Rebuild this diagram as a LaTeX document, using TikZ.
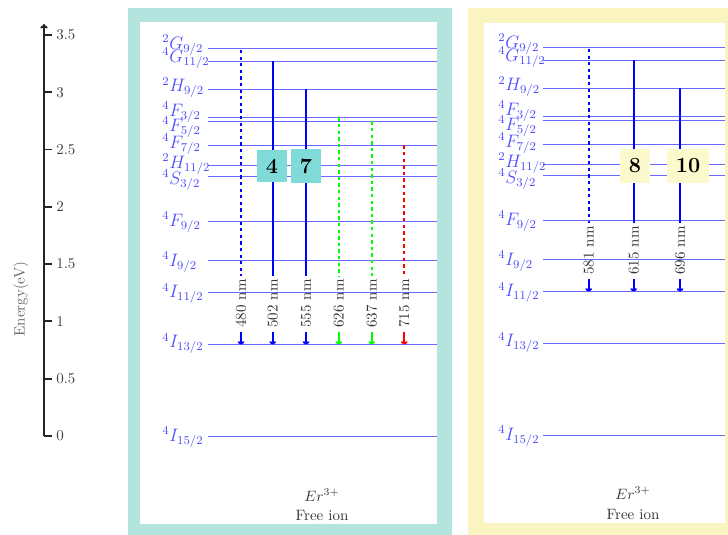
\documentclass[tikz,border=0pt]{standalone}
\usetikzlibrary{arrows.meta}
\definecolor{tealframe}{RGB}{179,229,222}
\definecolor{tealbox}{RGB}{128,218,216}
\definecolor{yelframe}{RGB}{250,244,192}
\definecolor{yelbox}{RGB}{252,249,205}
\definecolor{lvlblue}{RGB}{105,105,255}
\tikzset{
  lvl/.style={lvlblue, line width=0.9pt},
  lvllab/.style={blue!70, anchor=west, inner sep=0pt, font=\large},
  axisline/.style={black!85, line width=1.3pt},
  ticklab/.style={black!75, anchor=west, inner sep=0pt},
  nmlab/.style={black!80, rotate=90, inner sep=0pt},
  tr/.style={line width=1.3pt},
  dotl/.style={dash pattern=on 2.2pt off 2.2pt},
  numbox/.style={font=\Large\bfseries, inner sep=6.2pt, text=black},
  ionlab/.style={black!80, inner sep=0pt}
}
\newcommand\mylevel[4]{% name, x0, x1, y
  \coordinate (#1a) at (#2,#4);
  \coordinate (#1b) at (#3,#4);
  \draw[lvl] (#1a) -- (#1b);
}
\newcommand\mylab[4]{% name, x, y, text
  \node[lvllab] (#1) at (#2,#3) {$#4$};
}
\newcommand\mytrans[6]{% name, x, ytop, ybot, style, label
  \coordinate (#1top) at (#2,#3);
  \coordinate (#1end) at (#2,#4-68);
  \coordinate (#1arr) at (#2,#4-12);
  \coordinate (#1bot) at (#2,#4);
  \draw[tr,#5] (#1top) -- (#1end);
  \node[nmlab] (#1lab) at (#2,#4-41) {#6 nm};
  \draw[tr,#5,solid,-{To[length=2.2pt,width=4.5pt]}] (#1arr) -- (#1bot);
}
\begin{document}
\begin{tikzpicture}[x=0.6667pt,y=-0.6667pt]
\useasboundingbox (0,0) rectangle (728,535);
\clip (0,0) rectangle (728,535);
% frames
\fill[tealframe] (128,8) rectangle (452,545);
\fill[white] (140,22) rectangle (437,524);
\fill[yelframe] (468,8) rectangle (760,545);
\fill[white] (484,23) rectangle (725,523);
% axis
\coordinate (ax0) at (44,436);
\coordinate (axtop) at (44,24);
\draw[axisline,-{To[length=3pt,width=5pt]}] (ax0) -- (axtop);
\foreach \v/\t in {0/0,0.5/0.5,1/1,1.5/1.5,2/2,2.5/2.5,3/3,3.5/3.5}{
  \draw[axisline] (44,436-\v*114.6) -- (52,436-\v*114.6);
  \node[ticklab] (tick\t) at (56,436-\v*114.6) {\t};
}
\node[black!60, rotate=90] (elab) at (21,299) {Energy(eV)};
% levels
\foreach \n/\y in {a/48.5,b/61.5,c/89.5,d/117.5,e/121.5,f/145.5,g/165.5,h/176.5,i/221.5,j/260.5,k/292.5,l/344.5,m/436.5}{
  \mylevel{L\n}{208}{437}{\y}
  \mylevel{R\n}{543}{725}{\y-1}
}
% labels
\foreach \p/\x/\dy in {L/162/0,R/498/-1}{
  \mylab{\p labA}{\x}{45+\dy}{^{2}G_{9/2}}
  \mylab{\p labB}{\x}{58+\dy}{^{4}G_{11/2}}
  \mylab{\p labC}{\x}{87.5+\dy}{^{2}H_{9/2}}
  \mylab{\p labD}{\x}{112+\dy}{^{4}F_{3/2}}
  \mylab{\p labE}{\x}{127+\dy}{^{4}F_{5/2}}
  \mylab{\p labF}{\x}{144+\dy}{^{4}F_{7/2}}
  \mylab{\p labG}{\x}{164+\dy}{^{2}H_{11/2}}
  \mylab{\p labH}{\x}{180+\dy}{^{4}S_{3/2}}
  \mylab{\p labI}{\x}{222+\dy}{^{4}F_{9/2}}
  \mylab{\p labJ}{\x}{262+\dy}{^{4}I_{9/2}}
  \mylab{\p labK}{\x}{293.5+\dy}{^{4}I_{11/2}}
  \mylab{\p labL}{\x}{343.5+\dy}{^{4}I_{13/2}}
  \mylab{\p labM}{\x}{437+\dy}{^{4}I_{15/2}}
}
% left transitions
\mytrans{tA}{241}{50}{344.5}{blue,dotl}{480}
\mytrans{tB}{272.7}{61.5}{344.5}{blue}{502}
\mytrans{tC}{306}{89.5}{344.5}{blue}{555}
\mytrans{tD}{338.7}{117.5}{344.5}{green,dotl}{626}
\mytrans{tE}{371.7}{121.5}{344.5}{green,dotl}{637}
\mytrans{tF}{404.3}{145.5}{344.5}{red,dotl}{715}
% right transitions
\mytrans{tG}{588.7}{49}{291.5}{blue,dotl}{581}
\mytrans{tH}{633.7}{60.5}{291.5}{blue}{615}
\mytrans{tI}{680}{88.5}{291.5}{blue}{696}
% boxes
\node[numbox, fill=tealbox] (b4) at (272,166) {4};
\node[numbox, fill=tealbox] (b7) at (306,166) {7};
\node[numbox, fill=yelbox] (b8) at (635,166) {8};
\node[numbox, fill=yelbox] (b10) at (688,166) {10};
% ion labels
\node[ionlab] (erL) at (322,495) {$Er^{3+}$};
\node[ionlab] (fiL) at (322,515) {Free ion};
\node[ionlab] (erR) at (633,493) {$Er^{3+}$};
\node[ionlab] (fiR) at (633,514) {Free ion};
\end{tikzpicture}
\end{document}
